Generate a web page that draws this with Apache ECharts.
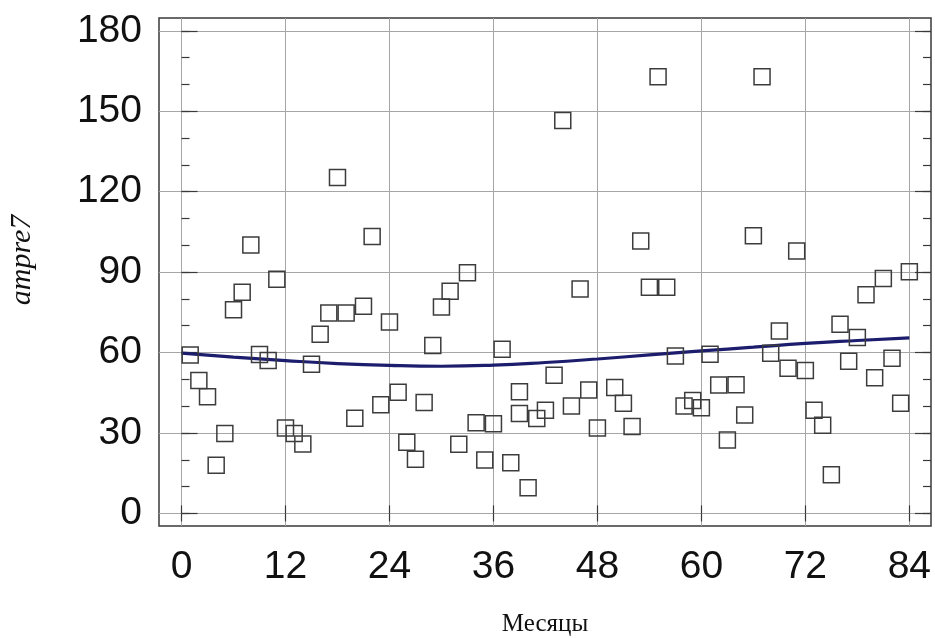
<!DOCTYPE html>
<html>
<head>
<meta charset="utf-8">
<script src="https://cdn.jsdelivr.net/npm/echarts@6/dist/echarts.min.js"></script>
<style>
html,body{margin:0;padding:0;background:#fff;}
#c{width:935px;height:638px;}
</style>
</head>
<body>
<div id="c"></div>
<script>
const xTicks = [0, 12, 24, 36, 48, 60, 72, 84];
const yTicks = [0, 30, 60, 90, 120, 150, 180];
const yMinorTicks = [0, 10, 20, 30, 40, 50, 60, 70, 80, 90, 100, 110, 120, 130, 140, 150, 160, 170, 180];

const months = [1, 2, 3, 4, 5, 6, 7, 8, 9, 10, 11, 12, 13, 14, 15, 16, 17, 18, 19, 20,
  21, 22, 23, 24, 25, 26, 27, 28, 29, 30, 31, 32, 33, 34, 35, 36, 37, 38, 39, 39,
  40, 41, 42, 43, 44, 45, 46, 47, 48, 50, 51, 52, 53, 54, 55, 56, 57, 58, 59, 60,
  61, 62, 63, 64, 65, 66, 67, 68, 69, 70, 71, 72, 73, 74, 75, 76, 77, 78, 79, 80,
  81, 82, 83, 84];
const values = [59.1, 49.6, 43.5, 18.0, 29.8, 76.0, 82.5, 100.1, 59.3, 57.0, 87.3, 31.9, 29.8, 25.9, 55.6, 66.8, 74.8, 125.3, 74.8, 35.5,
  77.3, 103.3, 40.5, 71.4, 45.2, 26.5, 20.2, 41.4, 62.6, 77.0, 82.9, 25.8, 89.8, 33.8, 19.9, 33.4, 61.2, 18.9, 45.4, 37.3,
  9.6, 35.4, 38.5, 51.5, 146.6, 40.1, 83.7, 46.0, 31.9, 47.0, 41.1, 32.4, 101.6, 84.4, 162.9, 84.4, 58.7, 40.1, 42.1, 39.4,
  59.4, 47.9, 27.4, 48.0, 36.7, 103.6, 162.9, 59.7, 68.0, 54.1, 97.9, 53.3, 38.5, 32.9, 14.4, 70.6, 56.8, 65.6, 81.6, 50.6,
  87.6, 57.9, 41.1, 90.1];

const trendMonths = [0, 6, 12, 18, 24, 30, 36, 42, 48, 54, 60, 66, 72, 78, 84];
const trendValues = [59.8, 58.3, 57.0, 55.9, 55.2, 54.9, 55.3, 56.3, 57.6, 59.1, 60.6, 62.0, 63.4, 64.5, 65.5];

const xTitle = 'Месяцы';
const yTitle = 'ampre7';

const scatterData = months.map((m, i) => [m, values[i]]);
const trendData = trendMonths.map((m, i) => [m, trendValues[i]]);

const chart = echarts.init(document.getElementById('c'), null, {renderer: 'canvas'});
const gridColor = '#a6a6a6';
const frameColor = '#3a3a3a';
const labelFont = {fontFamily: 'Liberation Sans, Arial, sans-serif', fontSize: 39, color: '#111'};

const xCommon = {type: 'value', min: -2.6, max: 86.5, gridIndex: 0};
const yCommon = {type: 'value', min: -4.7, max: 184.8, gridIndex: 0};

chart.setOption({
  animation: false,
  backgroundColor: '#fff',
  grid: {left: 159, top: 18, right: 4, bottom: 112, containLabel: false, outerBoundsMode: 'none',
    show: true, borderColor: frameColor, borderWidth: 1.5, backgroundColor: 'transparent'},
  xAxis: [
    Object.assign({}, xCommon, {
      position: 'bottom',
      name: xTitle, nameLocation: 'middle', nameGap: 86,
      nameTextStyle: {fontFamily: 'Liberation Serif, Times New Roman, serif', fontSize: 25, color: '#111'},
      axisLine: {show: false},
      axisTick: {show: true, inside: true, length: 8, customValues: xTicks, lineStyle: {color: frameColor, width: 1.2}},
      axisLabel: Object.assign({show: true, margin: 22, customValues: xTicks}, labelFont),
      splitLine: {show: true, lineStyle: {color: gridColor, width: 1}}
    }),
    Object.assign({}, xCommon, {
      position: 'top',
      axisLine: {show: false},
      axisTick: {show: true, inside: true, length: 8, customValues: xTicks, lineStyle: {color: frameColor, width: 1.2}},
      axisLabel: {show: false},
      splitLine: {show: false}
    })
  ],
  yAxis: [
    Object.assign({}, yCommon, {
      position: 'left',
      name: yTitle, nameLocation: 'middle', nameGap: 122, nameRotate: 90,
      nameTextStyle: {fontFamily: 'Liberation Serif, Times New Roman, serif', fontStyle: 'italic', fontSize: 30, color: '#111',
        padding: [0, 0, 0, 24]},
      axisLine: {show: false},
      axisTick: {show: true, inside: true, length: 16, customValues: yTicks, lineStyle: {color: frameColor, width: 1.2}},
      axisLabel: Object.assign({show: true, margin: 17, customValues: yTicks}, labelFont),
      splitLine: {show: true, lineStyle: {color: gridColor, width: 1}}
    }),
    Object.assign({}, yCommon, {
      position: 'left',
      axisLine: {show: false},
      axisTick: {show: true, inside: true, length: 8, customValues: yMinorTicks, lineStyle: {color: frameColor, width: 1.2}},
      axisLabel: {show: false},
      splitLine: {show: false}
    }),
    Object.assign({}, yCommon, {
      position: 'right',
      axisLine: {show: false},
      axisTick: {show: true, inside: true, length: 16, customValues: yTicks, lineStyle: {color: frameColor, width: 1.2}},
      axisLabel: {show: false},
      splitLine: {show: false}
    }),
    Object.assign({}, yCommon, {
      position: 'right',
      axisLine: {show: false},
      axisTick: {show: true, inside: true, length: 8, customValues: yMinorTicks, lineStyle: {color: frameColor, width: 1.2}},
      axisLabel: {show: false},
      splitLine: {show: false}
    })
  ],
  series: [
    {
      type: 'line',
      xAxisIndex: 0, yAxisIndex: 0,
      data: trendData,
      smooth: true,
      showSymbol: false,
      symbol: 'none',
      lineStyle: {color: '#1d1d6e', width: 3.2},
      z: 3,
      silent: true
    },
    {
      type: 'scatter',
      xAxisIndex: 0, yAxisIndex: 0,
      data: scatterData,
      symbol: 'rect',
      symbolSize: 16,
      itemStyle: {color: 'rgba(0,0,0,0)', borderColor: '#3c3c3c', borderWidth: 1.5, opacity: 1},
      z: 4,
      silent: true
    }
  ]
});
</script>
</body>
</html>
